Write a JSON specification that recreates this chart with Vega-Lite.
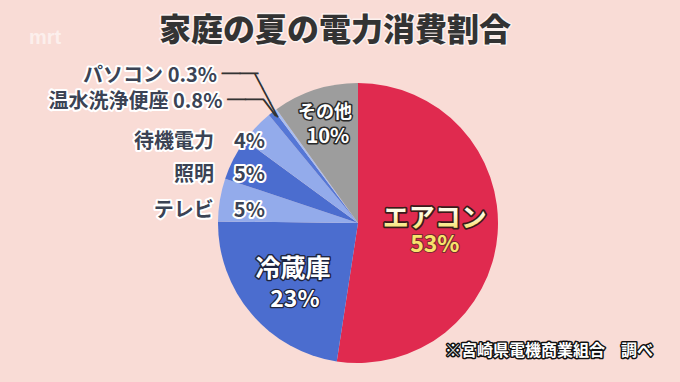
{
  "$schema": "https://vega.github.io/schema/vega-lite/v6.json",
  "width": 400,
  "height": 280,
  "autosize": "none",
  "padding": {"left": 158, "top": 83, "right": 122, "bottom": 19},
  "background": "#f9dcd6",
  "config": {"view": {"stroke": null}, "font": "Noto Sans CJK JP"},
  "data": {"values": [
    {"idx": 1, "name": "エアコン", "value": 53, "pct": "53%", "label": "エアコン 53%"},
    {"idx": 2, "name": "冷蔵庫", "value": 23, "pct": "23%", "label": "冷蔵庫 23%"},
    {"idx": 3, "name": "テレビ", "value": 5, "pct": "5%", "label": "テレビ　5%"},
    {"idx": 4, "name": "照明", "value": 5, "pct": "5%", "label": "照明　5%"},
    {"idx": 5, "name": "待機電力", "value": 4, "pct": "4%", "label": "待機電力　4%"},
    {"idx": 6, "name": "温水洗浄便座", "value": 0.8, "pct": "0.8%", "label": "温水洗浄便座 0.8%"},
    {"idx": 7, "name": "パソコン", "value": 0.3, "pct": "0.3%", "label": "パソコン 0.3%"},
    {"idx": 8, "name": "その他", "value": 10, "pct": "10%", "label": "その他 10%"}
  ]},
  "layer": [
    {
      "encoding": {
        "theta": {"field": "value", "type": "quantitative", "stack": true},
        "order": {"field": "idx", "type": "quantitative"}
      },
      "layer": [
        {"mark": {"type": "arc", "outerRadius": 140},
         "encoding": {"color": {"field": "name", "type": "nominal", "legend": null,
           "scale": {"domain": ["エアコン", "冷蔵庫", "テレビ", "照明", "待機電力", "温水洗浄便座", "パソコン", "その他"],
                     "range": ["#e02a4f", "#4b6dcf", "#93abeb", "#4b6dcf", "#93abeb", "#5577d6", "#a9bef0", "#9d9d9d"]}}}},

        {"mark": {"type": "text", "radius": 77, "dy": -10, "align": "center", "baseline": "middle", "fontSize": 26, "fontWeight": "bold", "fill": "#3a1a1a", "stroke": "#3a1a1a", "strokeWidth": 3.5, "strokeJoin": "round"},
         "encoding": {"text": {"condition": {"test": "datum.name==='エアコン'", "field": "name"}, "value": ""}}},
        {"mark": {"type": "text", "radius": 77, "dy": -10, "align": "center", "baseline": "middle", "fontSize": 26, "fontWeight": "bold", "fill": {"gradient": "linear", "x1": 0, "y1": 0, "x2": 0, "y2": 1, "stops": [{"offset": 0, "color": "#ffffff"}, {"offset": 0.45, "color": "#fffbe0"}, {"offset": 1, "color": "#f5dc4a"}]}},
         "encoding": {"text": {"condition": {"test": "datum.name==='エアコン'", "field": "name"}, "value": ""}}},
        {"mark": {"type": "text", "radius": 77, "dy": 16.5, "align": "center", "baseline": "middle", "fontSize": 23, "fontWeight": "bold", "fill": "#7a2a30", "stroke": "#7a2a30", "strokeWidth": 2, "strokeJoin": "round"},
         "encoding": {"text": {"condition": {"test": "datum.name==='エアコン'", "field": "pct"}, "value": ""}}},
        {"mark": {"type": "text", "radius": 77, "dy": 16.5, "align": "center", "baseline": "middle", "fontSize": 23, "fontWeight": "bold", "fill": "#f8e36b"},
         "encoding": {"text": {"condition": {"test": "datum.name==='エアコン'", "field": "pct"}, "value": ""}}},

        {"mark": {"type": "text", "radius": 88, "dx": 2, "dy": -11, "align": "center", "baseline": "middle", "fontSize": 25, "fontWeight": "bold", "fill": "#1e2540", "stroke": "#1e2540", "strokeWidth": 3, "strokeJoin": "round"},
         "encoding": {"text": {"condition": {"test": "datum.name==='冷蔵庫'", "field": "name"}, "value": ""}}},
        {"mark": {"type": "text", "radius": 88, "dx": 2, "dy": -11, "align": "center", "baseline": "middle", "fontSize": 25, "fontWeight": "bold", "fill": "#ffffff"},
         "encoding": {"text": {"condition": {"test": "datum.name==='冷蔵庫'", "field": "name"}, "value": ""}}},
        {"mark": {"type": "text", "radius": 88, "dx": 4, "dy": 20.5, "align": "center", "baseline": "middle", "fontSize": 23, "fontWeight": "bold", "fill": "#1e2540", "stroke": "#1e2540", "strokeWidth": 2.5, "strokeJoin": "round"},
         "encoding": {"text": {"condition": {"test": "datum.name==='冷蔵庫'", "field": "pct"}, "value": ""}}},
        {"mark": {"type": "text", "radius": 88, "dx": 4, "dy": 20.5, "align": "center", "baseline": "middle", "fontSize": 23, "fontWeight": "bold", "fill": "#ffffff"},
         "encoding": {"text": {"condition": {"test": "datum.name==='冷蔵庫'", "field": "pct"}, "value": ""}}},

        {"mark": {"type": "text", "radius": 118, "dx": 3, "dy": 2.3, "align": "center", "baseline": "middle", "fontSize": 18, "fontWeight": "bold", "fill": "#2a2a2a", "stroke": "#2a2a2a", "strokeWidth": 3, "strokeJoin": "round"},
         "encoding": {"text": {"condition": {"test": "datum.name==='その他'", "field": "name"}, "value": ""}}},
        {"mark": {"type": "text", "radius": 118, "dx": 3, "dy": 2.3, "align": "center", "baseline": "middle", "fontSize": 18, "fontWeight": "bold", "fill": "#ffffff"},
         "encoding": {"text": {"condition": {"test": "datum.name==='その他'", "field": "name"}, "value": ""}}},
        {"mark": {"type": "text", "radius": 118, "dx": 6, "dy": 26.7, "align": "center", "baseline": "middle", "fontSize": 20, "fontWeight": "bold", "fill": "#2a2a2a", "stroke": "#2a2a2a", "strokeWidth": 3, "strokeJoin": "round"},
         "encoding": {"text": {"condition": {"test": "datum.name==='その他'", "field": "pct"}, "value": ""}}},
        {"mark": {"type": "text", "radius": 118, "dx": 6, "dy": 26.7, "align": "center", "baseline": "middle", "fontSize": 20, "fontWeight": "bold", "fill": "#ffffff"},
         "encoding": {"text": {"condition": {"test": "datum.name==='その他'", "field": "pct"}, "value": ""}}},

        {"mark": {"type": "text", "radius": 140, "dx": 45, "dy": 11, "align": "right", "baseline": "middle", "fontSize": 20, "fontWeight": "bold", "fill": "#ffffff", "stroke": "#ffffff", "strokeWidth": 4, "strokeJoin": "round"},
         "encoding": {"text": {"condition": {"test": "datum.name==='テレビ'", "field": "label"}, "value": ""}}},
        {"mark": {"type": "text", "radius": 140, "dx": 45, "dy": 11, "align": "right", "baseline": "middle", "fontSize": 20, "fontWeight": "bold", "fill": "#3b4354"},
         "encoding": {"text": {"condition": {"test": "datum.name==='テレビ'", "field": "label"}, "value": ""}}},
        {"mark": {"type": "text", "radius": 140, "dx": 31.4, "dy": 15.9, "align": "right", "baseline": "middle", "fontSize": 20, "fontWeight": "bold", "fill": "#ffffff", "stroke": "#ffffff", "strokeWidth": 4, "strokeJoin": "round"},
         "encoding": {"text": {"condition": {"test": "datum.name==='照明'", "field": "label"}, "value": ""}}},
        {"mark": {"type": "text", "radius": 140, "dx": 31.4, "dy": 15.9, "align": "right", "baseline": "middle", "fontSize": 20, "fontWeight": "bold", "fill": "#3b4354"},
         "encoding": {"text": {"condition": {"test": "datum.name==='照明'", "field": "label"}, "value": ""}}},
        {"mark": {"type": "text", "radius": 140, "dx": 8.8, "dy": 14.7, "align": "right", "baseline": "middle", "fontSize": 20, "fontWeight": "bold", "fill": "#ffffff", "stroke": "#ffffff", "strokeWidth": 4, "strokeJoin": "round"},
         "encoding": {"text": {"condition": {"test": "datum.name==='待機電力'", "field": "label"}, "value": ""}}},
        {"mark": {"type": "text", "radius": 140, "dx": 8.8, "dy": 14.7, "align": "right", "baseline": "middle", "fontSize": 20, "fontWeight": "bold", "fill": "#3b4354"},
         "encoding": {"text": {"condition": {"test": "datum.name==='待機電力'", "field": "label"}, "value": ""}}},
        {"mark": {"type": "text", "radius": 140, "dx": -49.2, "dy": -10.7, "align": "right", "baseline": "middle", "fontSize": 20, "fontWeight": "bold", "fill": "#ffffff", "stroke": "#ffffff", "strokeWidth": 4, "strokeJoin": "round"},
         "encoding": {"text": {"condition": {"test": "datum.name==='温水洗浄便座'", "field": "label"}, "value": ""}}},
        {"mark": {"type": "text", "radius": 140, "dx": -49.2, "dy": -10.7, "align": "right", "baseline": "middle", "fontSize": 20, "fontWeight": "bold", "fill": "#3b4354"},
         "encoding": {"text": {"condition": {"test": "datum.name==='温水洗浄便座'", "field": "label"}, "value": ""}}},
        {"mark": {"type": "text", "radius": 140, "dx": -58.4, "dy": -34.3, "align": "right", "baseline": "middle", "fontSize": 20, "fontWeight": "bold", "fill": "#ffffff", "stroke": "#ffffff", "strokeWidth": 4, "strokeJoin": "round"},
         "encoding": {"text": {"condition": {"test": "datum.name==='パソコン'", "field": "label"}, "value": ""}}},
        {"mark": {"type": "text", "radius": 140, "dx": -58.4, "dy": -34.3, "align": "right", "baseline": "middle", "fontSize": 20, "fontWeight": "bold", "fill": "#3b4354"},
         "encoding": {"text": {"condition": {"test": "datum.name==='パソコン'", "field": "label"}, "value": ""}}},

        {"mark": {"type": "text", "radius": 140, "dx": -35.4, "dy": -34.5, "align": "center", "baseline": "middle", "fontSize": 18, "fill": "#333333", "stroke": "#333333", "strokeWidth": 1},
         "encoding": {"text": {"condition": {"test": "datum.name==='パソコン'", "value": "──"}, "value": ""}}},
        {"mark": {"type": "text", "radius": 140, "dx": -26.2, "dy": -11.9, "align": "center", "baseline": "middle", "fontSize": 18, "fill": "#333333", "stroke": "#333333", "strokeWidth": 1},
         "encoding": {"text": {"condition": {"test": "datum.name==='温水洗浄便座'", "value": "──"}, "value": ""}}},
        {"mark": {"type": "text", "radius": 157, "angle": 62, "align": "center", "baseline": "middle", "fontSize": 16, "fill": "#333333", "stroke": "#333333", "strokeWidth": 1},
         "encoding": {"text": {"condition": {"test": "datum.name==='パソコン'", "value": "───"}, "value": ""}}},
        {"mark": {"type": "text", "radius": 145, "angle": 53, "align": "center", "baseline": "middle", "fontSize": 20, "fill": "#333333", "stroke": "#333333", "strokeWidth": 1},
         "encoding": {"text": {"condition": {"test": "datum.name==='温水洗浄便座'", "value": "─"}, "value": ""}}}
      ]
    },
    {
      "data": {"values": [{"title": "家庭の夏の電力消費割合"}]},
      "layer": [
        {"mark": {"type": "text", "dx": -23, "dy": -192.4, "align": "center", "baseline": "middle", "fontSize": 32, "fontWeight": 900, "fill": "#ffffff", "stroke": "#ffffff", "strokeWidth": 3, "strokeJoin": "round", "opacity": 0.6},
         "encoding": {"text": {"field": "title"}}},
        {"mark": {"type": "text", "dx": -23, "dy": -192.4, "align": "center", "baseline": "middle", "fontSize": 32, "fontWeight": 900, "fill": "#333333"},
         "encoding": {"text": {"field": "title"}}}
      ]
    },
    {
      "data": {"values": [{"note": "※宮崎県電機商業組合　調べ"}]},
      "layer": [
        {"mark": {"type": "text", "dx": 191, "dy": 128.3, "align": "center", "baseline": "middle", "fontSize": 16, "fontWeight": "bold", "fill": "#111111", "stroke": "#111111", "strokeWidth": 3, "strokeJoin": "round"},
         "encoding": {"text": {"field": "note"}}},
        {"mark": {"type": "text", "dx": 191, "dy": 128.3, "align": "center", "baseline": "middle", "fontSize": 16, "fontWeight": "bold", "fill": "#ffffff"},
         "encoding": {"text": {"field": "note"}}}
      ]
    },
    {
      "data": {"values": [{"logo": "mrt"}]},
      "mark": {"type": "text", "dx": -313, "dy": -185, "align": "center", "baseline": "middle", "font": "Liberation Sans", "fontSize": 20, "fontWeight": "bold", "fill": "#ffffff", "opacity": 0.55},
      "encoding": {"text": {"field": "logo"}}
    }
  ]
}
